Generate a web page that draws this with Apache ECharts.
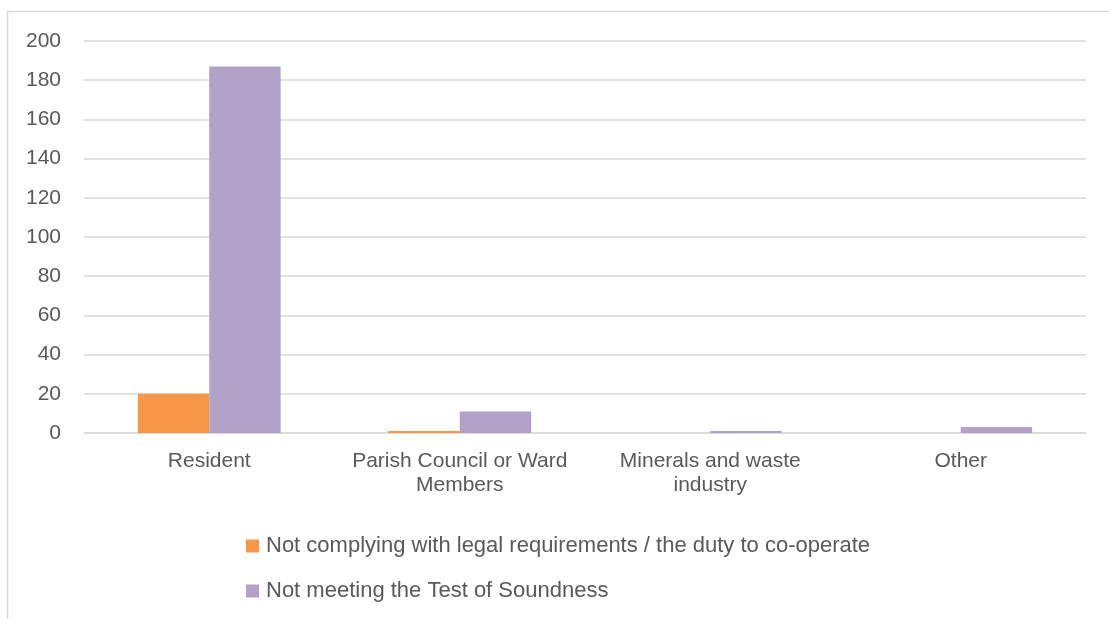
<!DOCTYPE html>
<html>
<head>
<meta charset="utf-8">
<script src="https://cdn.jsdelivr.net/npm/echarts@6/dist/echarts.min.js"></script>
<style>
    html, body { margin: 0; padding: 0; background: #fff; }
    #chart { width: 1109px; height: 619px; }
</style>
</head>
<body>
<div id="chart"></div>
<script>
    //类目与数据
    var categories = ["Resident", "Parish Council or Ward\nMembers", "Minerals and waste\nindustry", "Other"];
    var legalValues = [20, 1, 0, 0];
    var soundnessValues = [187, 11, 1, 3];
    var seriesNames = [
        "Not complying with legal requirements / the duty to co-operate",
        "Not meeting the Test of Soundness"
    ];
    var yTicks = { min: 0, max: 200, interval: 20 };

    var textColor = "#595959";
    var gridColor = "#D9D9D9";
    var fontFamily = "Liberation Sans";

    var chart = echarts.init(document.getElementById("chart"));
    var option = {
        animation: false,
        backgroundColor: "#fff",
        textStyle: { fontFamily: fontFamily },
        graphic: [{
            type: "rect",
            silent: true,
            shape: { x: 7.5, y: 11.5, width: 2000, height: 2000 },
            style: { fill: null, stroke: gridColor, lineWidth: 1.5 }
        }],
        grid: {
            left: 84,
            right: 23,
            top: 41,
            bottom: 186,
            containLabel: false
        },
        legend: {
            orient: "vertical",
            left: 241,
            top: 529,
            icon: "rect",
            itemWidth: 13,
            itemHeight: 13,
            itemGap: 21,
            data: seriesNames,
            textStyle: {
                color: textColor,
                fontSize: 22,
                lineHeight: 24,
                fontFamily: fontFamily,
                padding: [0, 0, 0, 2]
            }
        },
        xAxis: {
            type: "category",
            data: categories,
            axisTick: { show: false },
            axisLine: { lineStyle: { color: gridColor, width: 1.5 } },
            axisLabel: {
                color: textColor,
                fontSize: 21,
                lineHeight: 24,
                margin: 16,
                interval: 0,
                fontFamily: fontFamily
            }
        },
        yAxis: {
            type: "value",
            min: yTicks.min,
            max: yTicks.max,
            interval: yTicks.interval,
            axisLine: { show: false },
            axisTick: { show: false },
            axisLabel: {
                color: textColor,
                fontSize: 21,
                margin: 23,
                fontFamily: fontFamily
            },
            splitLine: { lineStyle: { color: gridColor, width: 1.5 } }
        },
        series: [{
            name: seriesNames[0],
            type: "bar",
            data: legalValues,
            barGap: "0%",
            barCategoryGap: "43%",
            itemStyle: { color: "#F79646" }
        }, {
            name: seriesNames[1],
            type: "bar",
            data: soundnessValues,
            barGap: "0%",
            barCategoryGap: "43%",
            itemStyle: { color: "#B2A2C7" }
        }]
    };
    chart.setOption(option);
</script>
</body>
</html>
